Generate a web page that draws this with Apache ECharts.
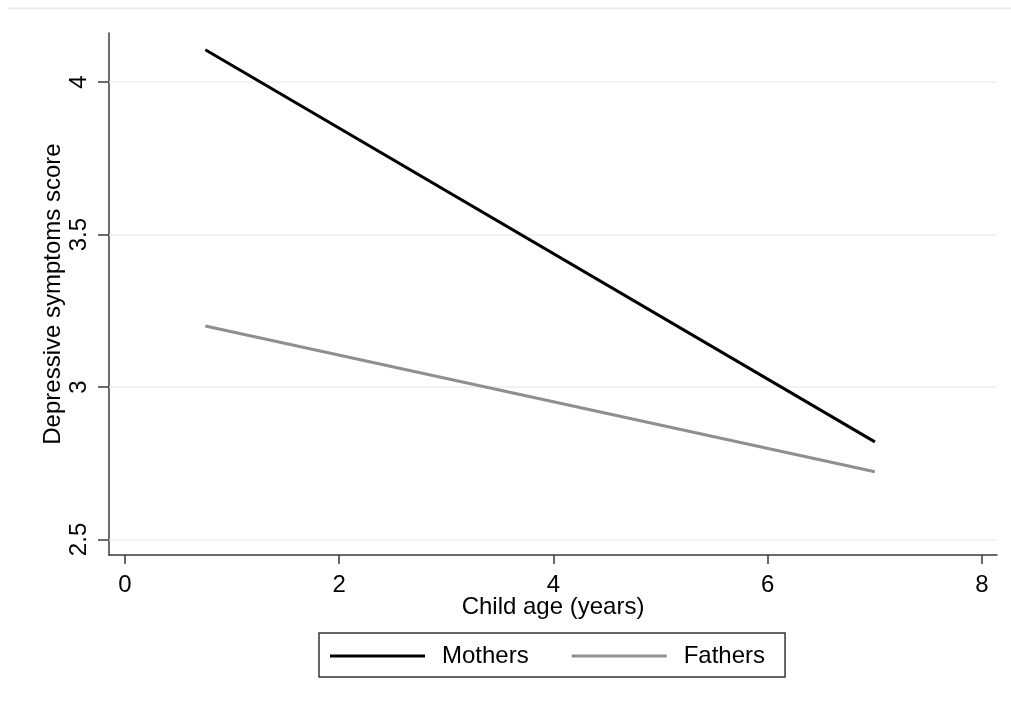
<!DOCTYPE html>
<html>
<head>
<meta charset="utf-8">
<title>Depressive symptoms by child age</title>
<script src="https://cdn.jsdelivr.net/npm/echarts@6/dist/echarts.min.js"></script>
<style>
  html, body { margin: 0; padding: 0; background: #ffffff; }
  #chart { width: 1011px; height: 706px; }
</style>
</head>
<body>
<div id="chart"></div>
<script>
// Fitted depressive symptoms score at the start and end of the age range
const childAge = [0.75, 7];
const mothers = [4.106, 2.82];
const fathers = [3.20, 2.722];

// Axis ticks
const xTicks = [0, 2, 4, 6, 8];
const yTicks = [2.5, 3, 3.5, 4];

const FONT = '"Liberation Sans", Arial, sans-serif';
const AXIS_COLOR = '#3a3a3a';
const GRID_COLOR = '#e9f0f0';
const MOTHER_COLOR = '#000000';
const FATHER_COLOR = '#8f8f8f';

const chart = echarts.init(document.getElementById('chart'), null, { renderer: 'canvas' });

const pairs = (xs, ys) => xs.map((x, i) => [x, ys[i]]);

chart.setOption({
  backgroundColor: '#ffffff',
  animation: false,
  textStyle: { fontFamily: FONT, color: '#000' },
  graphic: [{
    type: 'line',
    shape: { x1: 8, y1: 8.5, x2: 1011, y2: 8.5 },
    style: { stroke: '#e6eeef', lineWidth: 2 },
    silent: true
  }],
  grid: { left: 109, right: 14, top: 33, bottom: 151, containLabel: false },
  legend: {
    left: 319,
    top: 633,
    orient: 'horizontal',
    icon: 'rect',
    itemWidth: 95,
    itemHeight: 3,
    itemGap: 43,
    padding: [9, 20, 7, 11],
    borderColor: '#333',
    borderWidth: 1.5,
    borderRadius: 0,
    textStyle: { fontFamily: FONT, fontSize: 24, color: '#000', padding: [0, 0, 0, 12], lineHeight: 28 },
    data: ['Mothers', 'Fathers']
  },
  xAxis: {
    type: 'value',
    min: -0.149,
    max: 8.14,
    name: 'Child age (years)',
    nameLocation: 'middle',
    nameGap: 40,
    nameMoveOverlap: false,
    nameTextStyle: { fontFamily: FONT, fontSize: 24, color: '#000' },
    axisLine: { show: true, onZero: false, lineStyle: { color: AXIS_COLOR, width: 1.5 } },
    axisTick: { show: true, length: 9, customValues: xTicks, lineStyle: { color: AXIS_COLOR, width: 1.5 } },
    axisLabel: { customValues: xTicks, fontFamily: FONT, fontSize: 24, color: '#000', margin: 18 },
    splitLine: { show: false }
  },
  yAxis: {
    type: 'value',
    min: 2.449,
    max: 4.161,
    name: 'Depressive symptoms score',
    nameLocation: 'middle',
    nameGap: 44,
    nameMoveOverlap: false,
    nameRotate: 90,
    nameTextStyle: { fontFamily: FONT, fontSize: 24, color: '#000' },
    axisLine: { show: true, onZero: false, lineStyle: { color: AXIS_COLOR, width: 1.5 } },
    axisTick: { show: true, length: 11, customValues: yTicks, lineStyle: { color: AXIS_COLOR, width: 1.5 } },
    axisLabel: { customValues: yTicks, rotate: 90, fontFamily: FONT, fontSize: 24, color: '#000', margin: 18 },
    splitLine: { show: false }
  },
  series: [
    {
      name: 'Mothers',
      type: 'line',
      data: pairs(childAge, mothers),
      symbol: 'none',
      lineStyle: { color: MOTHER_COLOR, width: 3 },
      itemStyle: { color: MOTHER_COLOR },
      z: 3,
      markLine: {
        silent: true,
        symbol: ['none', 'none'],
        label: { show: false },
        lineStyle: { color: GRID_COLOR, width: 1.5, type: 'solid' },
        data: yTicks.map(v => ({ yAxis: v })),
        z: 1
      }
    },
    {
      name: 'Fathers',
      type: 'line',
      data: pairs(childAge, fathers),
      symbol: 'none',
      lineStyle: { color: FATHER_COLOR, width: 3 },
      itemStyle: { color: FATHER_COLOR },
      z: 3
    }
  ]
});
</script>
</body>
</html>
